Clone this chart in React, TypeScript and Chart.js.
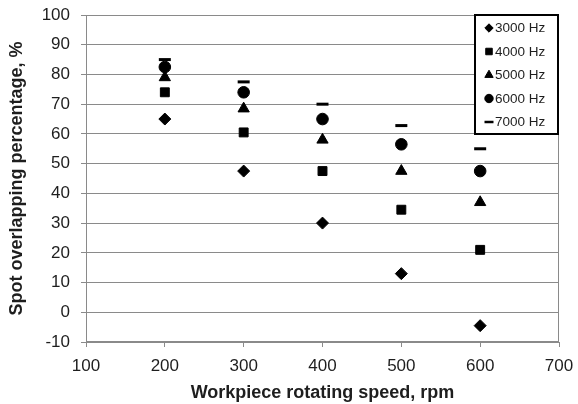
import React, { useEffect, useRef } from "react";
import { Chart, registerables } from "chart.js";
import * as helpers from "chart.js/helpers";

Chart.register(...registerables);

// Workpiece rotating speeds (rpm)
const speeds = [200, 300, 400, 500, 600];

// Spot overlapping percentage for each pulse frequency
const hz3000 = [65, 47.5, 30, 13, -4.5];
const hz4000 = [74, 60.5, 47.5, 34.5, 21];
const hz5000 = [79, 68.5, 58, 47.5, 37];
const hz6000 = [82.5, 74, 65, 56.5, 47.5];
const hz7000 = [85, 77.5, 70, 62.8, 55];

const seriesLabels = ["3000 Hz", "4000 Hz", "5000 Hz", "6000 Hz", "7000 Hz"];
const seriesValues = [hz3000, hz4000, hz5000, hz6000, hz7000];
const pointStyles = ["rectRot", "rect", "triangle", "circle", "line"];
const pointRadii = [6, 6.3, 6.5, 5.8, 6];
const legendRadii = [4.2, 4.6, 4.8, 4.2, 4.5];

const yTicks = [-10, 0, 10, 20, 30, 40, 50, 60, 70, 80, 90, 100];
const xTicks = [100, 200, 300, 400, 500, 600, 700];

const FONT = "'Liberation Sans', Arial, sans-serif";
const GRID = "#8a8a8a";
const TEXT = "#1e1e1e";

// Draws the plot frame and a boxed legend in the top-right of the plot area
const framePlugin = {
  id: "frameAndLegend",
  afterDatasetsDraw(chart: any) {
    const { ctx, chartArea } = chart;
    ctx.save();
    ctx.strokeStyle = GRID;
    ctx.lineWidth = 1;
    ctx.strokeRect(chartArea.left + 0.5, chartArea.top + 0.5, chartArea.right - chartArea.left - 1, chartArea.bottom - chartArea.top - 1);

    const w = 83;
    const h = 119;
    const x0 = chartArea.right - w - 1;
    const y0 = chartArea.top;
    ctx.fillStyle = "#ffffff";
    ctx.fillRect(x0, y0, w, h);
    ctx.strokeStyle = "#000000";
    ctx.lineWidth = 2;
    ctx.strokeRect(x0, y0, w, h);

    ctx.font = `13.5px ${FONT}`;
    ctx.textBaseline = "middle";
    ctx.textAlign = "left";
    chart.data.datasets.forEach((ds: any, i: number) => {
      const cy = y0 + 13 + i * 23.5;
      const cx = x0 + 14;
      ctx.fillStyle = "#000";
      ctx.strokeStyle = "#000";
      ctx.lineWidth = pointStyles[i] === "line" ? 2.5 : 1;
      helpers.drawPoint(ctx, { pointStyle: pointStyles[i], radius: legendRadii[i], rotation: 0, borderWidth: ctx.lineWidth }, cx, cy);
      ctx.fillStyle = TEXT;
      ctx.fillText(ds.label, cx + 6, cy + 0.5);
    });
    ctx.restore();
  },
};

export default function App() {
  const canvasRef = useRef<HTMLCanvasElement | null>(null);

  useEffect(() => {
    if (!canvasRef.current) return;
    const datasets = seriesLabels.map((label, i) => ({
      label,
      data: speeds.map((s, j) => ({ x: s, y: seriesValues[i][j] })),
      showLine: false,
      pointStyle: pointStyles[i],
      pointRadius: pointRadii[i],
      pointHoverRadius: pointRadii[i],
      backgroundColor: "#000000",
      borderColor: "#000000",
      borderWidth: pointStyles[i] === "line" ? 3 : 1,
    }));

    const chart = new Chart(canvasRef.current, {
      type: "scatter",
      data: { datasets },
      options: {
        animation: false,
        responsive: false,
        layout: { padding: { top: 15, right: 19, left: 0, bottom: 0 } },
        plugins: { legend: { display: false }, tooltip: { enabled: false } },
        scales: {
          x: {
            type: "linear",
            min: 100,
            max: 700,
            afterBuildTicks: (s: any) => {
              s.ticks = xTicks.map((v) => ({ value: v }));
            },
            afterFit: (s: any) => {
              s.height = 62;
              s.paddingLeft = 0;
              s.paddingRight = 0;
            },
            grid: { drawOnChartArea: false, drawTicks: true, tickLength: 5, color: GRID },
            border: { color: GRID },
            ticks: { color: TEXT, font: { family: FONT, size: 17 }, padding: 9, maxRotation: 0 },
            title: {
              display: true,
              text: "Workpiece rotating speed, rpm",
              color: TEXT,
              font: { family: FONT, size: 18, weight: "bold" },
              padding: { top: 0, bottom: 0 },
            },
          },
          y: {
            type: "linear",
            min: -10,
            max: 100,
            afterBuildTicks: (s: any) => {
              s.ticks = yTicks.map((v) => ({ value: v }));
            },
            afterFit: (s: any) => {
              s.width = 86;
              s.paddingTop = 0;
              s.paddingBottom = 0;
            },
            grid: { color: GRID, tickLength: 5, drawTicks: true },
            border: { color: GRID },
            ticks: { color: TEXT, font: { family: FONT, size: 17 }, padding: 11 },
            title: {
              display: true,
              text: "Spot overlapping percentage, %",
              color: TEXT,
              font: { family: FONT, size: 18, weight: "bold" },
              padding: { top: 6, bottom: 0 },
            },
          },
        },
      },
      plugins: [framePlugin],
    } as any);
    return () => chart.destroy();
  }, []);

  return (
    <div style={{ position: "fixed", left: 0, top: 0, width: 578, height: 404, background: "#fff" }}>
      <canvas ref={canvasRef} width={578} height={404} style={{ display: "block" }} />
    </div>
  );
}
